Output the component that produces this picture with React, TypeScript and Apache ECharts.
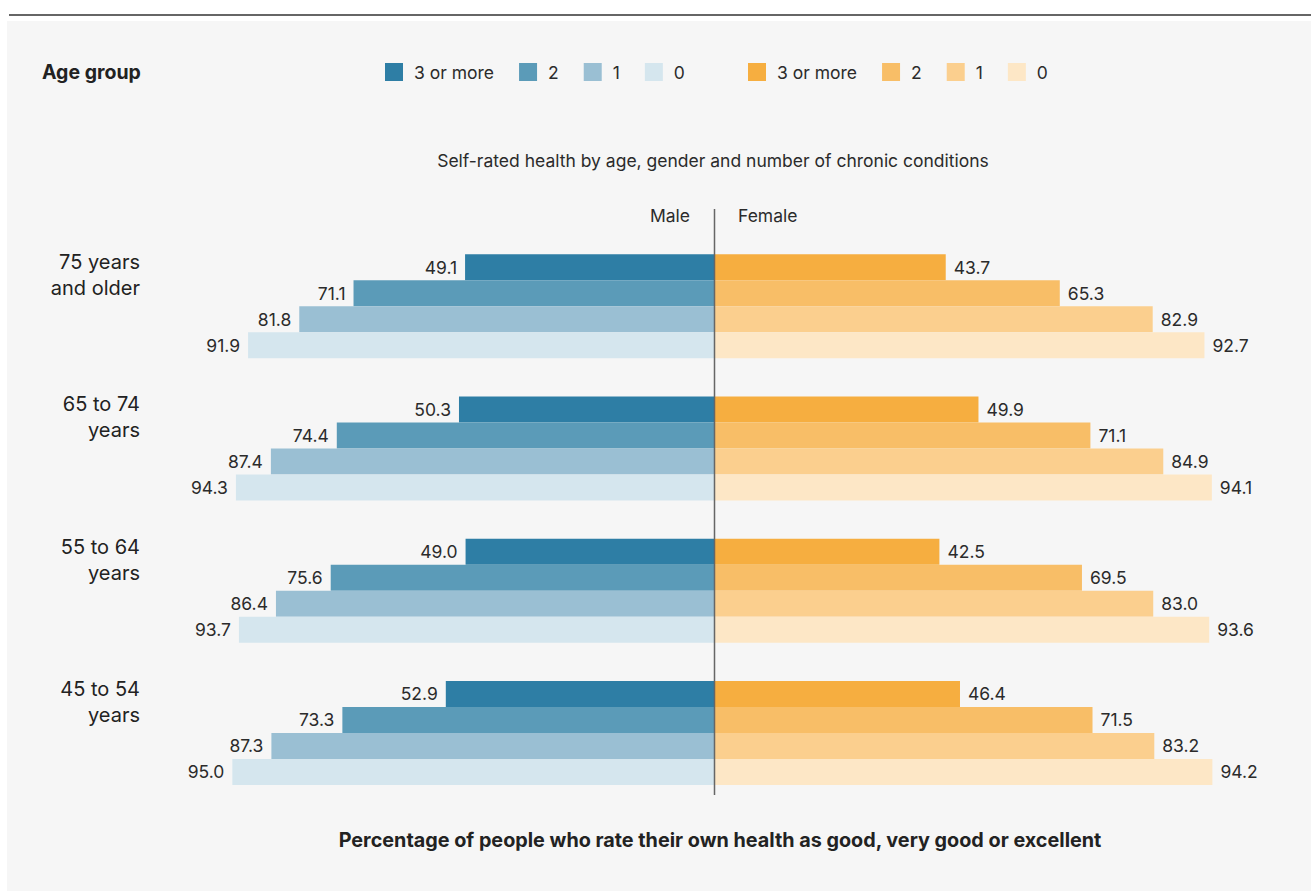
import React, { useEffect, useRef } from 'react';
import * as echarts from 'echarts';

const ageGroups = ['75 years\nand older', '65 to 74\nyears', '55 to 64\nyears', '45 to 54\nyears'];
const conditionLabels = ['3 or more', '2', '1', '0'];

const male3 = [49.1, 50.3, 49.0, 52.9];
const male2 = [71.1, 74.4, 75.6, 73.3];
const male1 = [81.8, 87.4, 86.4, 87.3];
const male0 = [91.9, 94.3, 93.7, 95.0];

const female3 = [43.7, 49.9, 42.5, 46.4];
const female2 = [65.3, 71.1, 69.5, 71.5];
const female1 = [82.9, 84.9, 83.0, 83.2];
const female0 = [92.7, 94.1, 93.6, 94.2];

const maleColors = ['#2e7ea5', '#5b9bb8', '#9abfd3', '#d5e6ee'];
const femaleColors = ['#f6ae40', '#f8be67', '#fbcf8e', '#fde7c6'];

const FONT = 'Inter';

export default function App() {
  const ref = useRef<HTMLDivElement>(null);
  useEffect(() => {
    if (!ref.current) return;
    const chart = echarts.init(ref.current, undefined, { renderer: 'svg' });
    const maleData = [male3, male2, male1, male0];
    const femaleData = [female3, female2, female1, female0];
    const maleNames = conditionLabels.map((c) => 'Male: ' + c);
    const femaleNames = conditionLabels.map((c) => 'Female: ' + c);
    const valueLabel = (pos: string) => ({
      show: true,
      position: pos,
      distance: 8,
      fontFamily: FONT,
      fontSize: 17.5,
      color: '#2b2b2b',
      formatter: (p: any) => Number(p.value).toFixed(1),
    });
    const series: any[] = [];
    maleData.forEach((d, i) => {
      series.push({
        type: 'bar',
        name: maleNames[i],
        xAxisIndex: 0,
        yAxisIndex: 0,
        data: d,
        barWidth: 26,
        barGap: '0%',
        itemStyle: { color: maleColors[i] },
        label: valueLabel('left'),
      });
    });
    femaleData.forEach((d, i) => {
      series.push({
        type: 'bar',
        name: femaleNames[i],
        xAxisIndex: 1,
        yAxisIndex: 1,
        data: d,
        barWidth: 26,
        barGap: '0%',
        itemStyle: { color: femaleColors[i] },
        label: valueLabel('right'),
      });
    });
    const legendBase = {
      top: 58,
      itemWidth: 18,
      itemHeight: 18,
      itemGap: 25,
      icon: 'rect',
      selectedMode: false,
      textStyle: { fontFamily: FONT, fontSize: 17.5, color: '#2b2b2b', padding: [0, 0, 0, 6] },
      formatter: (n: string) => n.split(': ')[1],
    };
    chart.setOption({
      animation: false,
      backgroundColor: '#f6f6f6',
      legend: [
        { ...legendBase, left: 380, data: maleNames },
        { ...legendBase, left: 743, data: femaleNames },
      ],
      grid: [
        { left: 207, top: 235, width: 507, height: 569 },
        { left: 715, top: 235, width: 528, height: 569 },
      ],
      xAxis: [
        { type: 'value', gridIndex: 0, min: 0, max: 100, inverse: true, show: false },
        { type: 'value', gridIndex: 1, min: 0, max: 100, show: false },
      ],
      yAxis: [
        {
          type: 'category',
          gridIndex: 0,
          data: ageGroups,
          inverse: true,
          position: 'left',
          axisLine: { show: false, onZero: false },
          axisTick: { show: false },
          splitLine: { show: false },
          axisLabel: {
            align: 'right',
            verticalAlign: 'bottom',
            margin: 67,
            formatter: (v: string) => v.split('\n').map((s) => '{a|' + s + '}').join('\n') + '\n{s|}',
            rich: {
              a: { fontFamily: FONT, fontSize: 20, lineHeight: 26, color: '#222' },
              s: { fontSize: 1, lineHeight: 5 },
            },
          },
        },
        {
          type: 'category',
          gridIndex: 1,
          data: ageGroups,
          inverse: true,
          show: false,
        },
      ],
      series,
      graphic: [
        { type: 'rect', shape: { x: 0, y: 0, width: 1311, height: 21 }, style: { fill: '#ffffff' }, silent: true },
        { type: 'rect', shape: { x: 0, y: 0, width: 7, height: 891 }, style: { fill: '#ffffff' }, silent: true },
        { type: 'line', shape: { x1: 9, y1: 15, x2: 1311, y2: 15 }, style: { stroke: '#333', lineWidth: 1.5 }, silent: true },
        { type: 'line', shape: { x1: 714.5, y1: 209, x2: 714.5, y2: 795 }, style: { stroke: '#666', lineWidth: 1.5 }, z: 100, silent: true },
        { type: 'text', x: 42, y: 72, style: { text: 'Age group', fontFamily: FONT, fontSize: 19.5, fontWeight: 'bold', fill: '#222', verticalAlign: 'middle' } },
        { type: 'text', x: 713, y: 160, style: { text: 'Self-rated health by age, gender and number of chronic conditions', fontFamily: FONT, fontSize: 17.5, fill: '#2b2b2b', align: 'center', verticalAlign: 'middle' } },
        { type: 'text', x: 690, y: 215, style: { text: 'Male', fontFamily: FONT, fontSize: 17.5, fill: '#2b2b2b', align: 'right', verticalAlign: 'middle' } },
        { type: 'text', x: 738, y: 215, style: { text: 'Female', fontFamily: FONT, fontSize: 17.5, fill: '#2b2b2b', align: 'left', verticalAlign: 'middle' } },
        { type: 'text', x: 720, y: 840, style: { text: 'Percentage of people who rate their own health as good, very good or excellent', fontFamily: FONT, fontSize: 19.8, fontWeight: 'bold', fill: '#222', align: 'center', verticalAlign: 'middle' } },
      ],
    });
    return () => chart.dispose();
  }, []);
  return <div ref={ref} style={{ position: 'absolute', left: 0, top: 0, width: 1311, height: 891 }} />;
}
